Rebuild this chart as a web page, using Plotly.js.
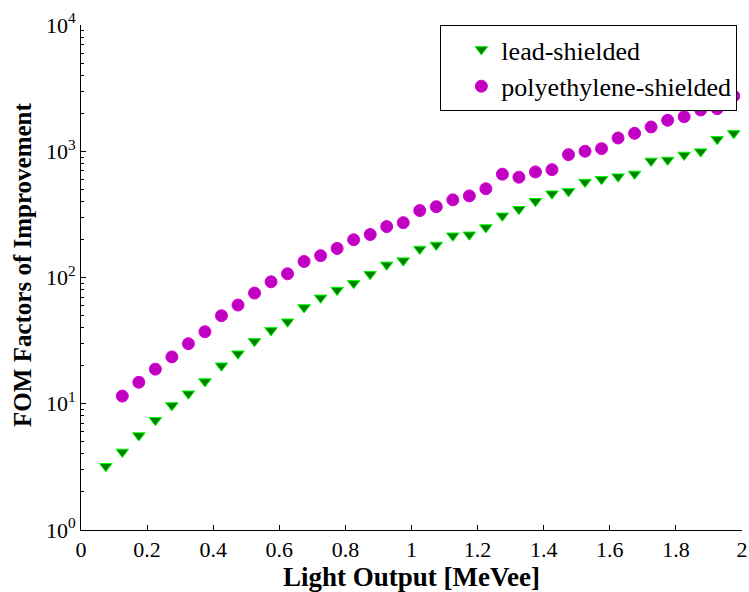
<!DOCTYPE html>
<html>
<head>
<meta charset="utf-8">
<script src="https://cdn.plot.ly/plotly-3.0.1.min.js"></script>
<style>html,body{margin:0;padding:0;background:#fff}#chart{width:749px;height:592px}</style>
</head>
<body>
<div id="chart"></div>
<script>
const leadX = [0.075,0.125,0.175,0.225,0.275,0.325,0.375,0.425,0.475,0.525,0.575,0.625,0.675,0.725,0.775,0.825,0.875,0.925,0.975,1.025,1.075,1.125,1.175,1.225,1.275,1.325,1.375,1.425,1.475,1.525,1.575,1.625,1.675,1.725,1.775,1.825,1.875,1.925,1.975];
const leadY = [3.2,4.15,5.6,7.4,9.7,12.0,15.0,20.0,24.9,31.2,38.1,44.6,57.9,69,79.5,90,106,126,136,168,181,214,218,249,308,347,402,461,481,570,600,629,661,838,853,935,993,1244,1387];
const polyX = [0.125,0.175,0.225,0.275,0.325,0.375,0.425,0.475,0.525,0.575,0.625,0.675,0.725,0.775,0.825,0.875,0.925,0.975,1.025,1.075,1.125,1.175,1.225,1.275,1.325,1.375,1.425,1.475,1.525,1.575,1.625,1.675,1.725,1.775,1.825,1.875,1.925,1.975];
const polyY = [11.5,14.8,18.8,23.5,29.9,37.2,49.8,60.5,75.3,92.5,107,134,149,170,199,219,253,272,339,364,412,443,505,658,623,686,715,940,1000,1049,1274,1387,1557,1759,1879,2123,2174,2739];
const xTickVals = [0,0.2,0.4,0.6,0.8,1,1.2,1.4,1.6,1.8,2];
const xTickText = ['0','0.2','0.4','0.6','0.8','1','1.2','1.4','1.6','1.8','2'];
const yTickVals = [1,10,100,1000,10000];
const yTickText = ['10<sup>0</sup>','10<sup>1</sup>','10<sup>2</sup>','10<sup>3</sup>','10<sup>4</sup>'];
const xTitle = 'Light Output [MeVee]';
const yTitle = 'FOM Factors of Improvement';

const traces = [
  {x: leadX, y: leadY, type: 'scatter', mode: 'markers', name: 'lead-shielded',
   marker: {symbol: 'triangle-down', size: 11, color: '#007f00', line: {color: '#00ff00', width: 1}}},
  {x: polyX, y: polyY, type: 'scatter', mode: 'markers', name: 'polyethylene-shielded',
   marker: {symbol: 'circle', size: 12, color: '#c000c0', line: {color: '#d400d4', width: 1}}}
];

const fam = 'Liberation Serif, Times New Roman, serif';
const f = (s) => ({family: fam, size: s, color: '#000'});
const layout = {
  width: 749, height: 592,
  margin: {l: 81, r: 7, t: 25, b: 62},
  paper_bgcolor: '#fff', plot_bgcolor: '#fff',
  font: f(22),
  showlegend: true,
  legend: {x: 0.993, y: 1.0, xanchor: 'right', yanchor: 'top',
    bordercolor: '#000', borderwidth: 1, bgcolor: '#fff',
    font: f(26), itemsizing: 'trace', tracegroupgap: 0, indentation: 20},
  xaxis: {
    range: [0, 2], tickvals: xTickVals, ticktext: xTickText,
    showline: true, linecolor: '#000', linewidth: 1, mirror: false,
    ticks: 'inside', ticklen: 5, tickcolor: '#000', showgrid: false, zeroline: false,
    tickfont: f(22),
    title: {text: '<b>' + xTitle + '</b>', font: f(27), standoff: 1}
  },
  yaxis: {
    type: 'log', range: [0, 4], tickvals: yTickVals, ticktext: yTickText,
    showline: true, linecolor: '#000', linewidth: 1, mirror: false,
    ticks: 'inside', ticklen: 5, tickcolor: '#000', showgrid: false, zeroline: false,
    minor: {ticks: 'inside', ticklen: 3, tickcolor: '#000', dtick: 'D1', showgrid: false},
    tickfont: f(22)
  },
  annotations: [
    {text: '<b>' + yTitle + '</b>', textangle: -90, showarrow: false,
     xref: 'paper', yref: 'paper', x: -0.0877, y: 0.525, xanchor: 'center', yanchor: 'middle',
     font: f(25)}
  ]
};

Plotly.newPlot('chart', traces, layout, {displayModeBar: false, staticPlot: true});
</script>
</body>
</html>
